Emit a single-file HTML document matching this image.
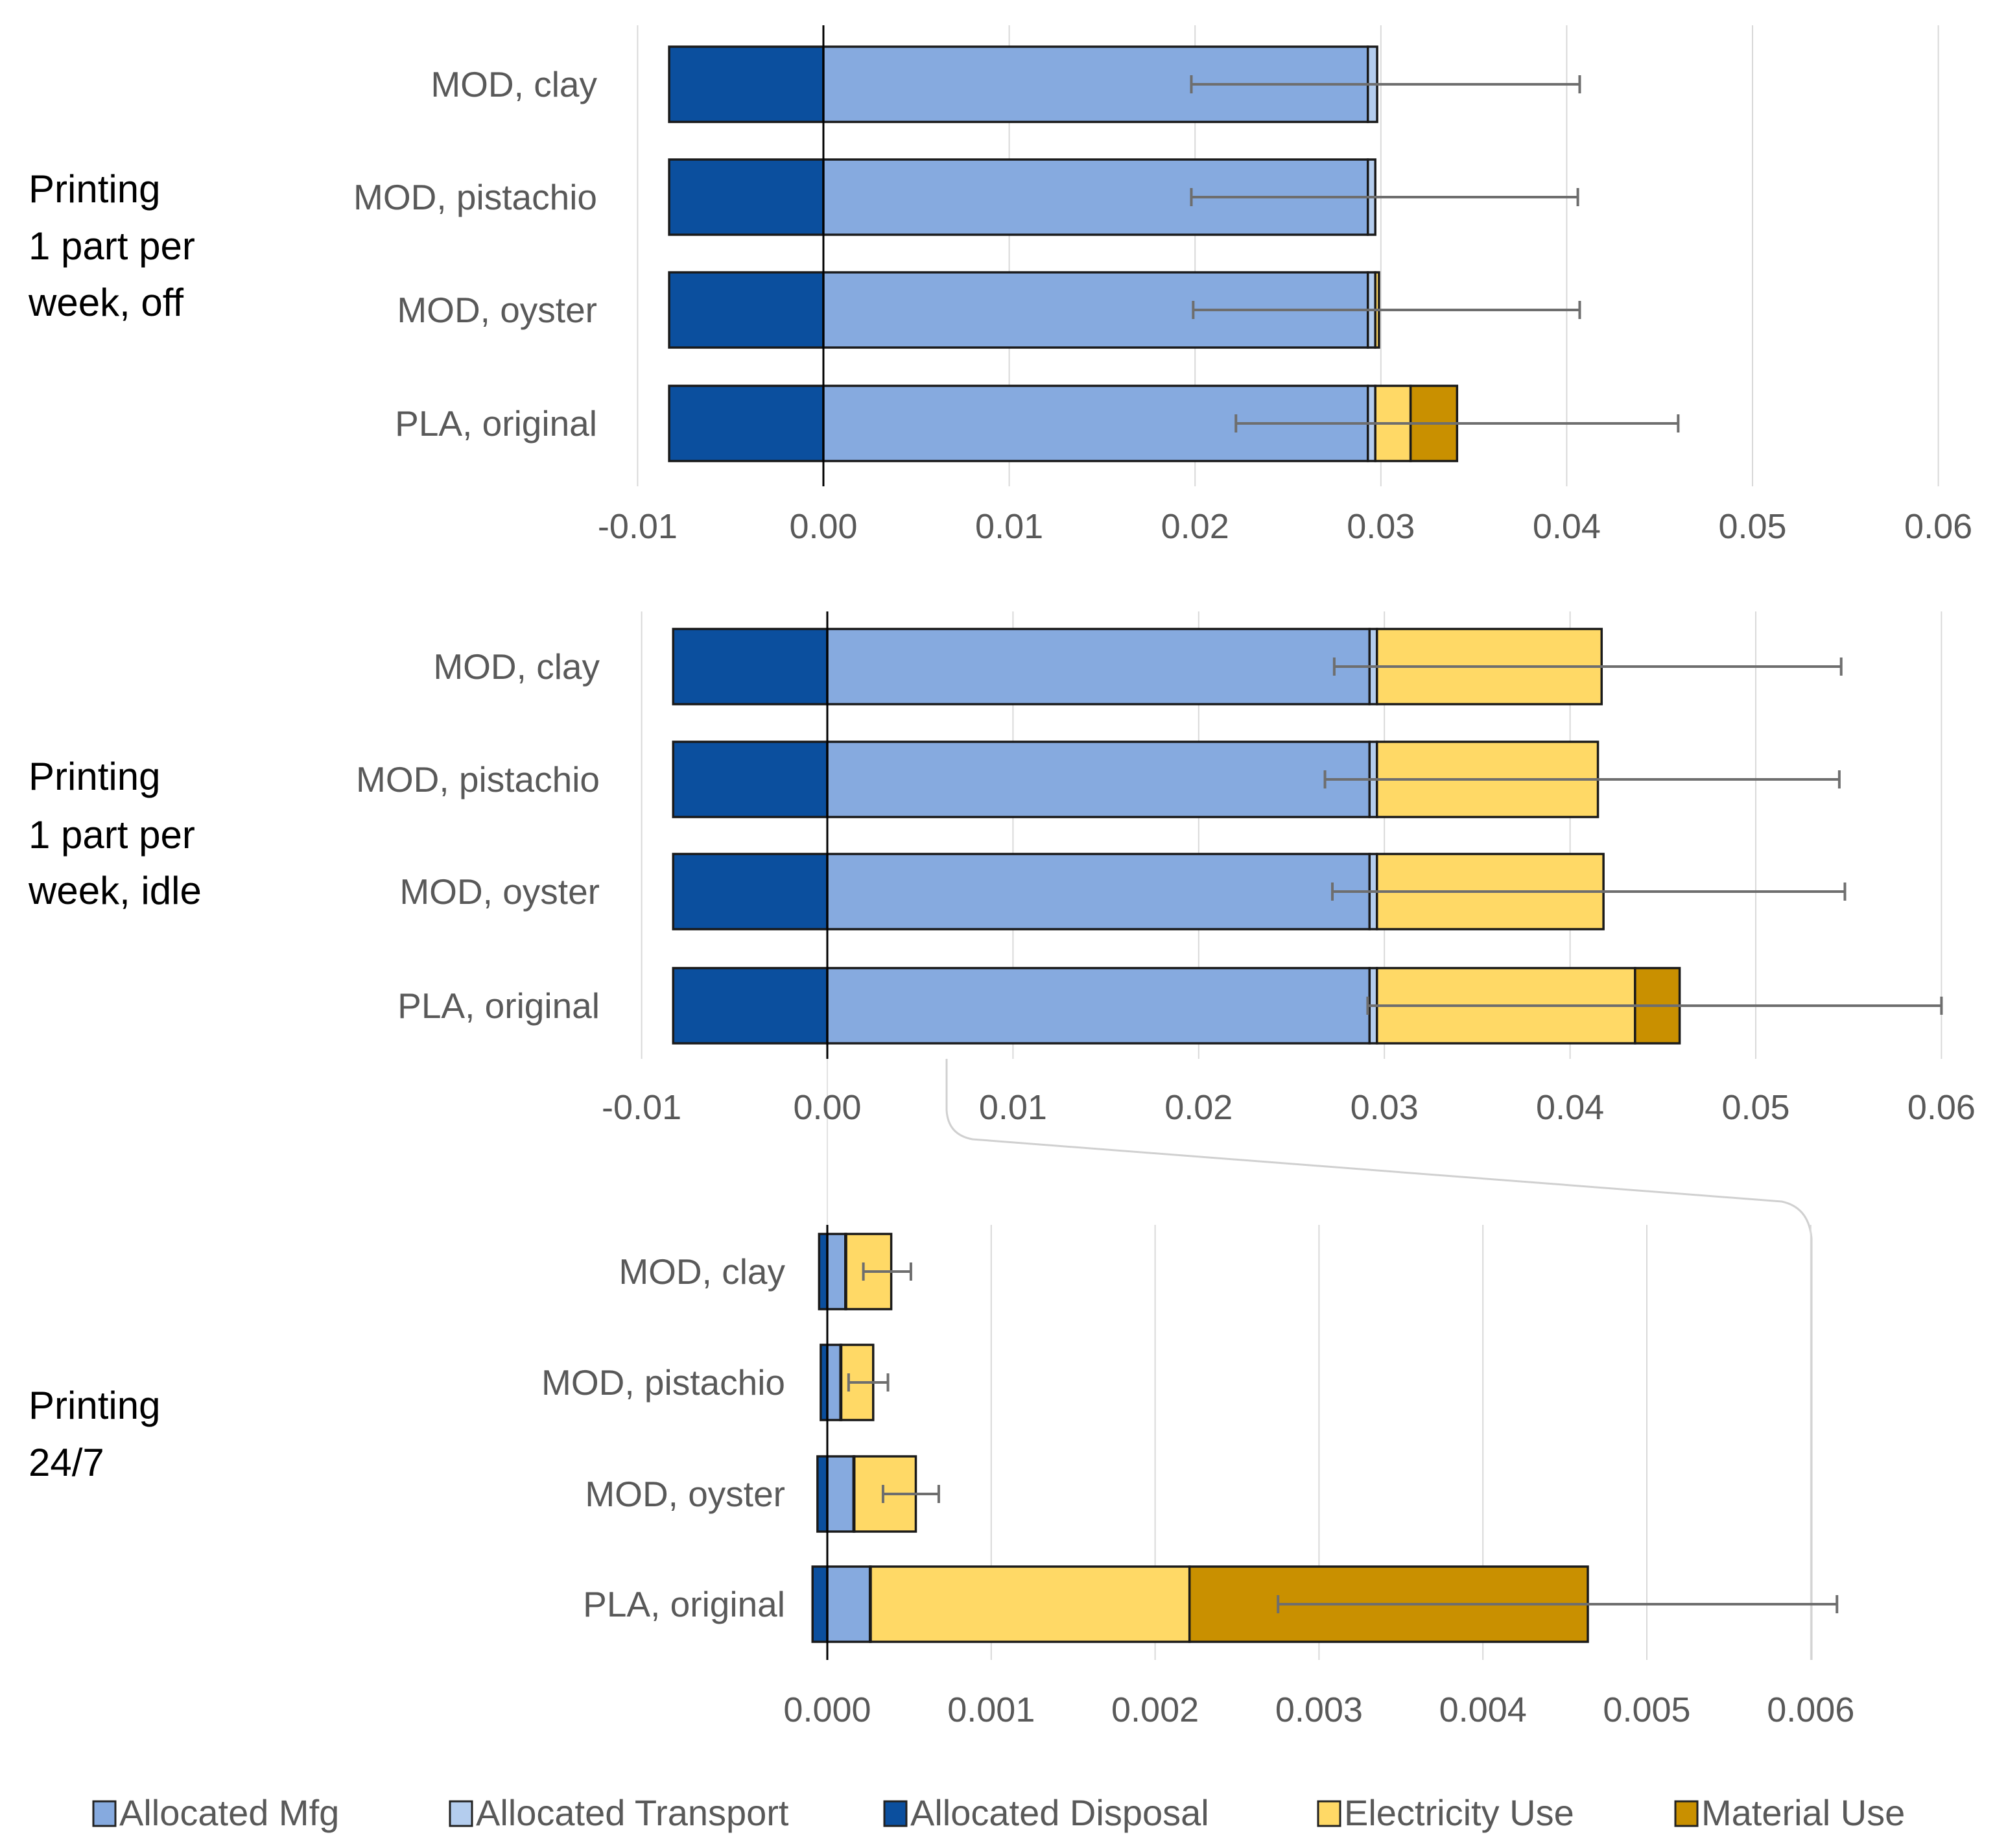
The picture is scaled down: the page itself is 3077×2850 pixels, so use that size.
<!DOCTYPE html>
<html><head><meta charset="utf-8"><style>
html,body{margin:0;padding:0;background:#fff;}
svg{display:block;font-family:"Liberation Sans",sans-serif;}
</style></head><body>
<svg id="chart" width="3077" height="2850" viewBox="0 0 3077 2850" xmlns="http://www.w3.org/2000/svg">
<g id="layer"></g>
</svg>
<script>
const categories = ["MOD, clay", "MOD, pistachio", "MOD, oyster", "PLA, original"];
const seriesNames = ["Allocated Mfg", "Allocated Transport", "Allocated Disposal", "Electricity Use", "Material Use"];
// Panel 1: Printing 1 part per week, off
const p1Disposal = [-0.0083, -0.0083, -0.0083, -0.0083];
const p1Mfg = [0.0293, 0.0293, 0.0293, 0.0293];
const p1Transport = [0.0005, 0.0004, 0.0004, 0.0004];
const p1Electricity = [0.0000, 0.0000, 0.0002, 0.0019];
const p1Material = [0.0000, 0.0000, 0.0000, 0.0025];
const p1ErrLow = [0.0198, 0.0198, 0.0199, 0.0222];
const p1ErrHigh = [0.0407, 0.0406, 0.0407, 0.0460];
// Panel 2: Printing 1 part per week, idle
const p2Disposal = [-0.0083, -0.0083, -0.0083, -0.0083];
const p2Mfg = [0.0292, 0.0292, 0.0292, 0.0292];
const p2Transport = [0.0004, 0.0004, 0.0004, 0.0004];
const p2Electricity = [0.0121, 0.0119, 0.0122, 0.0139];
const p2Material = [0.0000, 0.0000, 0.0000, 0.0024];
const p2ErrLow = [0.0273, 0.0268, 0.0272, 0.0291];
const p2ErrHigh = [0.0546, 0.0545, 0.0548, 0.0600];
// Panel 3: Printing 24/7
const p3Disposal = [-0.00005, -0.00004, -0.00006, -0.00009];
const p3Mfg = [0.00011, 0.00008, 0.00016, 0.00026];
const p3Transport = [0.000005, 0.000005, 0.000005, 0.000005];
const p3Electricity = [0.000275, 0.000195, 0.000375, 0.001945];
const p3Material = [0.0000, 0.0000, 0.0000, 0.00243];
const p3ErrLow = [0.00022, 0.00013, 0.00034, 0.00275];
const p3ErrHigh = [0.00051, 0.00037, 0.00068, 0.00616];
const ticks12 = [-0.01, 0.00, 0.01, 0.02, 0.03, 0.04, 0.05, 0.06];
const tickLabels12 = ["-0.01", "0.00", "0.01", "0.02", "0.03", "0.04", "0.05", "0.06"];
const ticks3 = [0.000, 0.001, 0.002, 0.003, 0.004, 0.005, 0.006];
const tickLabels3 = ["0.000", "0.001", "0.002", "0.003", "0.004", "0.005", "0.006"];

const NS = "http://www.w3.org/2000/svg";
const layer = document.getElementById("layer");
const colors = {mfg:"#86aadf", transport:"#b4cdee", disposal:"#0b4f9e", elec:"#ffd966", mat:"#c99000"};
function mk(tag, attrs, parent){
  const e = document.createElementNS(NS, tag);
  for (const k in attrs) e.setAttribute(k, attrs[k]);
  (parent||layer).appendChild(e);
  return e;
}

const panels = [
  {x0:1270, unit:28660, barTops:[72,246,420,595], gridTop:39, gridBot:750, tickY:830, labelX:921,
   ticks:ticks12, tl:tickLabels12, d:p1Disposal, m:p1Mfg, t:p1Transport, e:p1Electricity, ma:p1Material, lo:p1ErrLow, hi:p1ErrHigh,
   group:["Printing","1 part per","week, off"], gy:[312,400,487], name:"panel-off"},
  {x0:1276, unit:28640, barTops:[970,1144,1317,1493], gridTop:943, gridBot:1633, tickY:1726, labelX:925,
   ticks:ticks12, tl:tickLabels12, d:p2Disposal, m:p2Mfg, t:p2Transport, e:p2Electricity, ma:p2Material, lo:p2ErrLow, hi:p2ErrHigh,
   group:["Printing","1 part per","week, idle"], gy:[1218,1308,1394], name:"panel-idle"},
  {x0:1276, unit:252800, barTops:[1903,2074,2246,2416], gridTop:1889, gridBot:2560, tickY:2655, labelX:1211,
   ticks:ticks3, tl:tickLabels3, d:p3Disposal, m:p3Mfg, t:p3Transport, e:p3Electricity, ma:p3Material, lo:p3ErrLow, hi:p3ErrHigh,
   group:["Printing","24/7"], gy:[2188,2276], name:"panel-24-7"}
];
const BH = 116;

const conn = mk("path", {d:"M1460,1633 L1460,1712 Q1462,1750 1500,1757 L2748,1853 Q2790,1862 2794,1910 L2794,2560", fill:"none", stroke:"#d0d0d0", "stroke-width":3});


const conn2 = mk("line", {x1:1276, y1:1633, x2:1276, y2:1889, stroke:"#e2e2e2", "stroke-width":2});



panels.forEach(p => {
  const g = mk("g", {});
  
  
  const X = v => p.x0 + v * p.unit;
  p.ticks.forEach((tv, i) => {
    if (Math.abs(tv) > 1e-12) {
      const gl = mk("line", {x1:X(tv), y1:p.gridTop, x2:X(tv), y2:p.gridBot, stroke:"#d9d9d9", "stroke-width":2}, g);
      
      
    }
    const tx = mk("text", {x:X(tv), y:p.tickY, "text-anchor":"middle", "font-size":54, fill:"#595959"}, g);
    tx.textContent = p.tl[i];
    
    
  });
  categories.forEach((c, i) => {
    const top = p.barTops[i];
    const segs = [];
    segs.push([p.d[i], 0, colors.disposal, 'bar-disposal']);
    let acc = 0;
    segs.push([acc, acc + p.m[i], colors.mfg, 'bar-mfg']); acc += p.m[i];
    segs.push([acc, acc + p.t[i], colors.transport, 'bar-transport']); acc += p.t[i];
    segs.push([acc, acc + p.e[i], colors.elec, 'bar-electricity']); acc += p.e[i];
    segs.push([acc, acc + p.ma[i], colors.mat, 'bar-material']); acc += p.ma[i];
    segs.forEach(s => {
      const a = Math.min(X(s[0]), X(s[1])), b = Math.max(X(s[0]), X(s[1]));
      if (b - a < 0.5) return;
      const r = mk("rect", {x:a, y:top, width:b - a, height:BH, fill:s[2], stroke:"#1a1a1a", "stroke-width":3.5}, g);
      
      
    });
    const cy = top + BH / 2;
    const eb = mk("g", {stroke:"#6e6e6e", "stroke-width":4}, g);
    
    
    mk("line", {x1:X(p.lo[i]), y1:cy, x2:X(p.hi[i]), y2:cy}, eb);
    mk("line", {x1:X(p.lo[i]), y1:cy - 14, x2:X(p.lo[i]), y2:cy + 14}, eb);
    mk("line", {x1:X(p.hi[i]), y1:cy - 14, x2:X(p.hi[i]), y2:cy + 14}, eb);
    const lb = mk("text", {x:p.labelX, y:cy + 19, "text-anchor":"end", "font-size":55, fill:"#595959"}, g);
    lb.textContent = c;
    
    
  });
  const ax = mk("line", {x1:X(0), y1:p.gridTop, x2:X(0), y2:p.gridBot, stroke:"#000", "stroke-width":3}, g);
  
  
  p.group.forEach((t, j) => {
    const gt = mk("text", {x:44, y:p.gy[j], "font-size":60, fill:"#000"}, g);
    gt.textContent = t;
    
    
  });
});

const legX = [144, 694, 1364, 2033, 2584];
const legCol = [colors.mfg, colors.transport, colors.disposal, colors.elec, colors.mat];
const lg = mk("g", {});


seriesNames.forEach((n, i) => {
  const e = mk("g", {}, lg);
  
  
  mk("rect", {x:legX[i], y:2778, width:34, height:38, fill:legCol[i], stroke:"#222", "stroke-width":3}, e);
  const t = mk("text", {x:legX[i] + 40, y:2815, "font-size":56, fill:"#595959"}, e);
  t.textContent = n;
});
</script>
</body></html>
